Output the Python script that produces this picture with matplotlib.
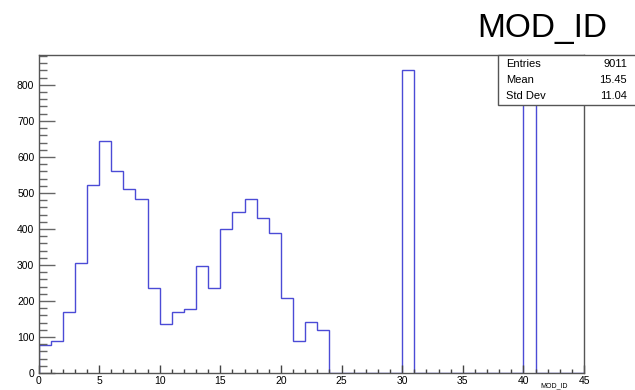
import numpy as np
import matplotlib
matplotlib.use("Agg")
import matplotlib.pyplot as plt
from matplotlib.patches import Rectangle
from matplotlib.ticker import MultipleLocator

plt.rcParams['font.family'] = ['Liberation Sans', 'DejaVu Sans']

# --- data (MOD_ID histogram, 45 bins of width 1) ---
bin_edges = np.arange(0, 46)
counts = [78, 89, 169, 306, 522, 643, 561, 511, 483, 235,
          136, 168, 177, 297, 237, 401, 446, 484, 431, 389,
          209, 89, 143, 119, 0, 0, 0, 0, 0, 0,
          842, 0, 0, 0, 0, 0, 0, 0, 0, 0,
          846, 0, 0, 0, 0]
title = "MOD_ID"
stat_names = ["Entries", "Mean", "Std Dev"]
stat_values = ["9011", "15.45", "11.04"]

W, H = 635, 390
fig = plt.figure(figsize=(W / 100, H / 100), dpi=100)
fig.patch.set_facecolor('white')

# frame in pixels: x 38.5..584, y 55..373
ax = fig.add_axes([38.5 / W, (H - 373) / H, (584 - 38.5) / W, (373 - 55) / H])

ax.stairs(counts, bin_edges, color='#4b4bd6', lw=1.0)

ax.set_xlim(0, 45)
ax.set_ylim(0, 883)

ax.xaxis.set_major_locator(MultipleLocator(5))
ax.xaxis.set_minor_locator(MultipleLocator(1))
ax.yaxis.set_major_locator(MultipleLocator(100))
ax.yaxis.set_minor_locator(MultipleLocator(20))

ax.tick_params(axis='x', which='major', direction='in', length=5.8, width=1,
               color='#444444', labelsize=7.5, pad=2)
ax.tick_params(axis='x', which='minor', direction='in', length=2.9, width=1,
               color='#444444')
ax.tick_params(axis='y', which='major', direction='in', length=11.5, width=1,
               color='#666666', labelsize=7.5, pad=3)
ax.tick_params(axis='y', which='minor', direction='in', length=5.8, width=1,
               color='#666666')

for s in ax.spines.values():
    s.set_color('#555555')
    s.set_linewidth(1.0)

# title
fig.text(542 / W, 1 - 28 / H, title, fontsize=24, ha='center', va='center')

# stats box (drawn over the histogram, running to the right edge)
box = Rectangle((498 / W, 1 - 105 / H), (W - 498) / W + 0.01, 50 / H,
                transform=fig.transFigure, facecolor='white',
                edgecolor='#555555', lw=1.0, zorder=10)
fig.patches.append(box)
for i, (n, v) in enumerate(zip(stat_names, stat_values)):
    y = 1 - (64 + 16 * i) / H
    fig.text(506 / W, y, n, fontsize=8, ha='left', va='center', zorder=11)
    fig.text(627 / W, y, v, fontsize=8, ha='right', va='center', zorder=11)

# x-axis title, small, tucked in the bottom-right corner
fig.text(568 / W, 1 / H, title, fontsize=5, ha='right', va='bottom')

fig.savefig("out.png", dpi=100, facecolor='white')
